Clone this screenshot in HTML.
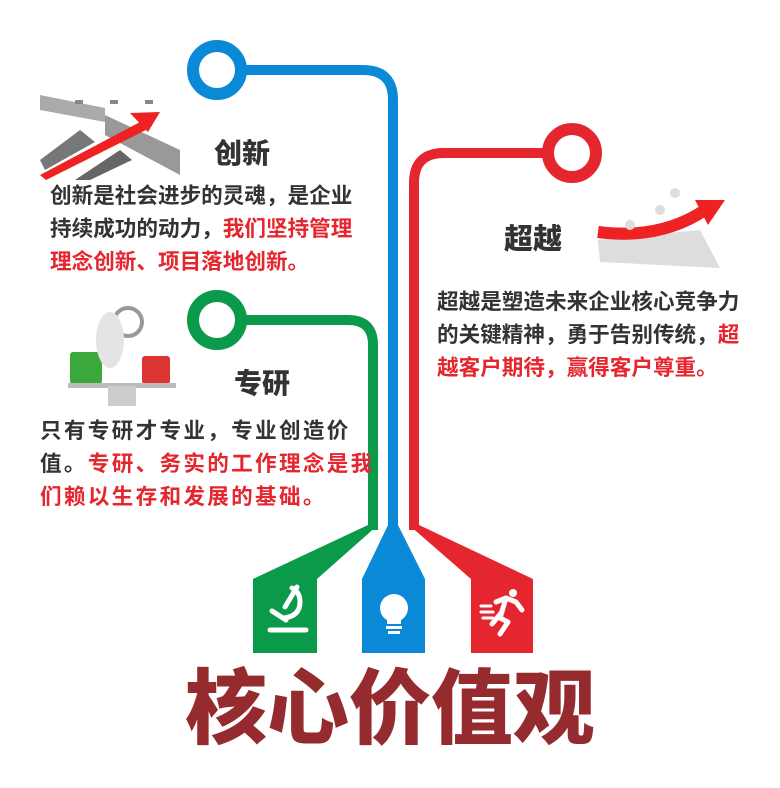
<!DOCTYPE html>
<html><head><meta charset="utf-8"><style>
html,body{margin:0;padding:0;background:#fff}
body{width:780px;height:788px;position:relative;overflow:hidden;font-family:"Liberation Sans","Noto Sans CJK SC",sans-serif;font-weight:700}
.t{position:absolute;white-space:nowrap;color:#333}
.r{color:#e5262e}
.p{font-size:21.6px;line-height:33px}
</style></head><body>
<svg width="780" height="788" style="position:absolute;left:0;top:0">
<!-- blue -->
<path d="M241 70 H363 Q393 70 393 100 V530" fill="none" stroke="#0a8ad6" stroke-width="10"/>
<circle cx="217" cy="70" r="24" fill="#fff" stroke="#0a8ad6" stroke-width="12"/>
<polygon points="388,525 398,525 425,579 425,653 362,653 362,579" fill="#0a8ad6"/>
<!-- green -->
<path d="M241 320 H348 Q373 320 373 345 V530" fill="none" stroke="#0a9a4a" stroke-width="10"/>
<circle cx="217" cy="320" r="24" fill="#fff" stroke="#0a9a4a" stroke-width="12"/>
<polygon points="368,525 378,525 317,579 317,653 253,653 253,579" fill="#0a9a4a"/>
<!-- red -->
<path d="M548 153 H444 Q414 153 414 183 V530" fill="none" stroke="#e5262e" stroke-width="10"/>
<circle cx="572" cy="153" r="24" fill="#fff" stroke="#e5262e" stroke-width="12"/>
<polygon points="409,525 419,525 533,579 533,653 471,653 471,579" fill="#e5262e"/>
<!-- microscope -->
<g fill="none" stroke="#fff" stroke-width="5" stroke-linecap="round">
<line x1="270" y1="630" x2="306" y2="630"/>
<path d="M284 618 Q300 616 300 602 Q300 592 292 588"/>
<line x1="297" y1="587" x2="285" y2="607"/>
<line x1="272" y1="611" x2="286" y2="620"/>
</g>
<!-- bulb -->
<circle cx="394" cy="608" r="14" fill="#fff"/>
<rect x="387" y="614" width="14" height="10" fill="#fff"/>
<rect x="386" y="626" width="16" height="3" fill="#fff"/>
<rect x="388" y="631" width="12" height="3" fill="#fff"/>
<!-- runner -->
<g fill="none" stroke="#fff" stroke-width="5" stroke-linecap="round" stroke-linejoin="round">
<circle cx="513" cy="593" r="4" fill="#fff" stroke="none"/>
<path d="M496 602 L506 598 L516 602 L522 610"/>
<path d="M506 598 L500 618 L508 622 L500 634"/>
<path d="M502 612 L492 624"/>
<line x1="481" y1="606" x2="491" y2="606" stroke-width="3"/>
<line x1="481" y1="612" x2="493" y2="612" stroke-width="3"/>
<line x1="483" y1="618" x2="493" y2="618" stroke-width="3"/>
</g>
<!-- innovation image -->
<polygon points="40,95 105,108 105,122 40,110" fill="#aaa"/>
<polygon points="105,115 180,150 180,175 105,135" fill="#999"/>
<polygon points="40,160 80,130 95,142 45,170" fill="#777"/>
<polygon points="75,180 120,150 132,160 90,180" fill="#666"/>
<polygon points="40,175 140,122 146,130 46,180" fill="#e22"/>
<polygon points="130,113 160,112 148,132" fill="#e22"/>
<rect x="75" y="100" width="8" height="4" fill="#888"/><rect x="110" y="100" width="8" height="4" fill="#888"/><rect x="145" y="100" width="8" height="4" fill="#888"/>
<!-- research image -->
<rect x="70" y="352" width="32" height="32" fill="#3aa83a" rx="3"/>
<rect x="142" y="356" width="28" height="28" fill="#d33" rx="3"/>
<rect x="68" y="383" width="108" height="5" fill="#bbb"/>
<rect x="108" y="386" width="28" height="20" fill="#ccc"/>
<circle cx="128" cy="322" r="14" fill="none" stroke="#999" stroke-width="4"/>
<ellipse cx="110" cy="340" rx="14" ry="28" fill="#e4e4e4"/>
<!-- surpass image -->
<polygon points="598,240 700,230 720,268 600,262" fill="#ddd"/>
<path d="M598 232 Q660 240 705 210" fill="none" stroke="#e22" stroke-width="12"/>
<polygon points="695,200 725,200 708,225" fill="#e22"/>
<circle cx="675" cy="193" r="5" fill="#ddd"/><circle cx="660" cy="210" r="5" fill="#ddd"/><circle cx="630" cy="225" r="5" fill="#ddd"/>
</svg>

<div class="t" style="left:214px;top:132px;font-size:28px;font-weight:900">创新</div>
<div class="t p" style="left:50px;top:179px">创新是社会进步的灵魂，是企业<br>持续成功的动力，<span class="r">我们坚持管理</span><br><span class="r">理念创新、项目落地创新。</span></div>

<div class="t" style="left:234px;top:362px;font-size:28px;font-weight:900">专研</div>
<div class="t p" style="left:40px;top:414px;letter-spacing:2.3px">只有专研才专业，专业创造价<br>值。<span class="r">专研、务实的工作理念是我</span><br><span class="r">们赖以生存和发展的基础。</span></div>

<div class="t" style="left:504px;top:216px;font-size:29px;font-weight:900">超越</div>
<div class="t p" style="left:437px;top:285px">超越是塑造未来企业核心竞争力<br>的关键精神，勇于告别传统，<span class="r">超</span><br><span class="r">越客户期待，赢得客户尊重。</span></div>

<div class="t" style="left:185px;top:662px;font-size:82px;line-height:96px;color:#962b2f;font-weight:900">核心价值观</div>
</body></html>
